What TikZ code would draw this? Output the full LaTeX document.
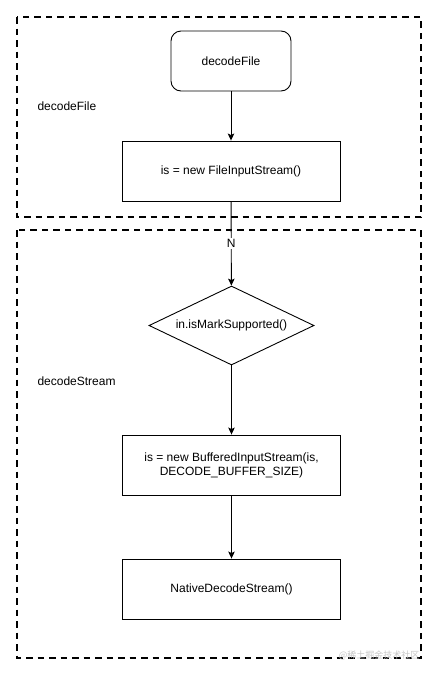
\documentclass[tikz,border=0pt]{standalone}
\usepackage{fontspec}
\setmainfont{Liberation Sans}
\newfontfamily\cjkfont{Noto Sans CJK SC}
\usetikzlibrary{arrows.meta,shapes.geometric}
\begin{document}
\begin{tikzpicture}[x=1pt,y=-1pt,
  every node/.style={font=\fontsize{12}{14}\selectfont},
  frame/.style={draw, line width=1.6pt, dash pattern=on 6.5pt off 5pt},
  procbox/.style={draw, line width=0.9pt, minimum width=218pt, minimum height=60pt, align=center, inner sep=0pt},
  startbox/.style={draw, line width=0.9pt, rounded corners=10pt, minimum width=120pt, minimum height=60pt, inner sep=0pt},
  decbox/.style={draw, line width=0.9pt, diamond, aspect=2.09, minimum width=165pt, minimum height=79pt, inner sep=0pt},
  conn/.style={draw, line width=0.9pt, -{Stealth[length=7pt,width=6.5pt,inset=1.5pt]}}
]
\useasboundingbox (0,0) rectangle (438,675);
\fill[white] (0,0) rectangle (438,675);
\draw[frame] (17,17) rectangle (421,217);
\draw[frame] (17,230) rectangle (421,658);
\node[anchor=west] (lblfile) at (34,106) {decodeFile};
\node[anchor=west] (lblstream) at (34,381) {decodeStream};
\node[startbox] (start) at (231,61) {decodeFile};
\node[procbox] (fis) at (231,171) {is = new FileInputStream()};
\node[decbox] (mark) at (231.5,325.5) {in.isMarkSupported()};
\node[procbox] (bis) at (231.5,465) {is = new BufferedInputStream(is,\\DECODE\_BUFFER\_SIZE)};
\node[procbox] (nds) at (231.5,589) {NativeDecodeStream()};
\draw[conn] (start) -- (fis);
\draw[conn] (fis) -- node[fill=white, inner sep=1pt] (nlbl) {N} (mark);
\draw[conn] (mark) -- (bis);
\draw[conn] (bis) -- (nds);
\node[text=black!22, font=\cjkfont\fontsize{9}{10}\selectfont, anchor=east] (wm) at (423,655) {@稀土掘金技术社区};
\end{tikzpicture}
\end{document}
